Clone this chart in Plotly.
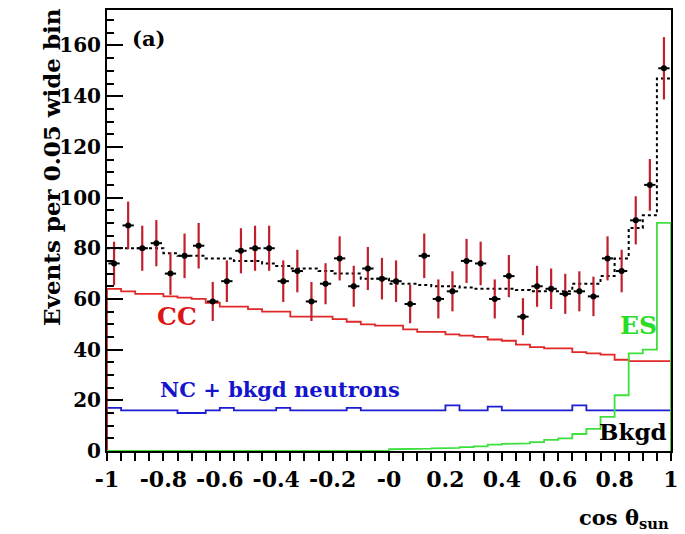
import numpy as np
import plotly.graph_objects as go

# 40 bins of width 0.05 in cos(theta_sun)
bin_edges = np.linspace(-1.0, 1.0, 41)
bin_centers = 0.5 * (bin_edges[:-1] + bin_edges[1:])

# Measured events per bin and their statistical errors
data_counts = [74, 89, 80, 82, 70, 77, 81, 59, 67, 79,
               80, 80, 67, 71, 59, 66, 76, 65, 72, 68,
               67, 58, 77, 60, 63, 75, 74, 60, 69, 53,
               65, 64, 62, 63, 61, 76, 71, 91, 105, 151]
data_errors = [8.6, 9.4, 8.9, 9.1, 8.4, 8.8, 9.0, 7.7, 8.2, 8.9,
               8.9, 8.9, 8.2, 8.4, 7.7, 8.1, 8.7, 8.1, 8.5, 8.2,
               8.2, 7.6, 8.8, 7.7, 7.9, 8.7, 8.6, 7.7, 8.3, 7.3,
               8.1, 8.0, 7.9, 7.9, 7.8, 8.7, 8.4, 9.5, 10.2, 12.3]

# Fitted signal components
cc_counts = [64, 63, 62, 62, 61, 60.5, 60, 58.5, 57, 57,
             56, 55, 55, 53, 53, 53, 52, 51, 50, 49.5,
             49.5, 48, 47, 47, 46, 45.5, 45, 44, 43.5, 42,
             41, 40.5, 40.5, 39, 38.5, 38, 36, 35.5, 35.5, 35.5]
nc_counts = [17, 16, 16, 16, 16, 15, 15, 16, 17, 16,
             16, 16, 17, 16, 16, 16, 16, 17, 16, 16,
             16, 16, 16, 16, 18, 16, 16, 17.5, 16, 16,
             16, 16, 16, 18, 16, 16, 16, 16, 16, 16]
es_counts = [0, 0, 0, 0, 0, 0, 0, 0, 0, 0,
             0, 0, 0, 0, 0, 0, 0, 0, 0, 0,
             0.7, 0.8, 0.9, 1.0, 1.2, 1.5, 1.8, 2.5, 2.8, 3.0,
             3.5, 4.4, 5.0, 6.7, 8.7, 13.5, 22, 38.5, 40, 90]
# Total fit (sum of all components)
total_fit = [80, 80, 80, 80, 78, 77, 77, 76, 76, 75,
             75, 74, 73, 72, 72, 71, 70, 70, 68, 68,
             66, 66, 65.5, 65, 65, 64.5, 64, 64, 64, 63.5,
             63, 63, 63, 66, 66, 69, 76, 88, 93, 147]

x_ticks = [-1, -0.8, -0.6, -0.4, -0.2, 0, 0.2, 0.4, 0.6, 0.8, 1]
x_tick_text = ["-1", "-0.8", "-0.6", "-0.4", "-0.2", "-0", "0.2", "0.4", "0.6", "0.8", "1"]
y_ticks = [0, 20, 40, 60, 80, 100, 120, 140, 160]


def closed_steps(values):
    """Histogram outline that starts and ends on zero."""
    xs, ys = [bin_edges[0]], [0.0]
    for i, v in enumerate(values):
        xs += [bin_edges[i], bin_edges[i + 1]]
        ys += [v, v]
    xs.append(bin_edges[-1])
    ys.append(0.0)
    return xs, ys


def open_steps(values):
    xs, ys = [], []
    for i, v in enumerate(values):
        xs += [bin_edges[i], bin_edges[i + 1]]
        ys += [v, v]
    return xs, ys


FONT = "DejaVu Serif"
fig = go.Figure()

for vals, col in [(nc_counts, "#1c1cd0"), (cc_counts, "#e02828")]:
    xs, ys = closed_steps(vals)
    fig.add_trace(go.Scatter(x=xs, y=ys, mode="lines",
                             line=dict(color=col, width=1.8), hoverinfo="skip"))

xs, ys = closed_steps(es_counts)
fig.add_trace(go.Scatter(x=xs, y=ys, mode="lines",
                         line=dict(color="#3ee03e", width=1.8), hoverinfo="skip"))

xs, ys = open_steps(total_fit)
fig.add_trace(go.Scatter(x=xs, y=ys, mode="lines",
                         line=dict(color="black", width=2, dash="dot"), hoverinfo="skip"))

# Data points with error bars
fig.add_trace(go.Scatter(
    x=bin_centers, y=data_counts, mode="markers",
    marker=dict(color="black", size=6),
    error_y=dict(type="data", array=data_errors, color="#c0202e", thickness=2.2, width=0),
    error_x=dict(type="constant", value=0.02, color="black", thickness=2, width=0),
))

labels = [
    ("(a)", -0.853, 162.6, "black", 21),
    ("CC", -0.752, 52.9, "#dd1515", 25),
    ("NC + bkgd neutrons", -0.388, 24.1, "#1414cc", 21),
    ("ES", 0.885, 49.7, "#28dd28", 25),
    ("Bkgd", 0.867, 7.5, "black", 23),
]
annotations = [dict(text=t, x=x, y=y, xref="x", yref="y", showarrow=False,
                    font=dict(family=FONT, size=s, color=c, weight="bold"))
               for t, x, y, c, s in labels]
annotations.append(dict(text="Events per 0.05 wide bin", xref="paper", yref="paper",
                        x=-0.126, y=0.645, textangle=-90, showarrow=False,
                        font=dict(family=FONT, size=23, color="black", weight="bold")))
annotations.append(dict(text="cos θ<sub>sun</sub>", xref="paper", yref="paper",
                        x=1.0, y=-0.152, xanchor="right", yanchor="middle", showarrow=False,
                        font=dict(family=FONT, size=21, color="black", weight="bold")))

fig.update_layout(
    width=685, height=534,
    margin=dict(l=107, r=6, t=10, b=83),
    plot_bgcolor="white", paper_bgcolor="white",
    showlegend=False,
    annotations=annotations,
    xaxis=dict(range=[-1, 1], tickvals=x_ticks, ticktext=x_tick_text,
               ticks="outside", ticklen=8, tickwidth=1.5, tickcolor="black",
               minor=dict(dtick=0.05, ticks="outside", ticklen=8, tickwidth=1.5, tickcolor="black"),
               showline=True, linecolor="black", linewidth=2, mirror=True,
               showgrid=False, zeroline=False,
               tickfont=dict(family=FONT, size=22, color="black", weight="bold")),
    yaxis=dict(range=[0, 174], tickvals=y_ticks,
               ticks="inside", ticklen=16, tickwidth=1.5, tickcolor="black",
               minor=dict(dtick=5, ticks="inside", ticklen=7, tickwidth=1.5, tickcolor="black"),
               showline=True, linecolor="black", linewidth=2, mirror=True,
               showgrid=False, zeroline=False,
               tickfont=dict(family=FONT, size=20, color="black", weight="bold")),
)

fig.write_html("out.html")
